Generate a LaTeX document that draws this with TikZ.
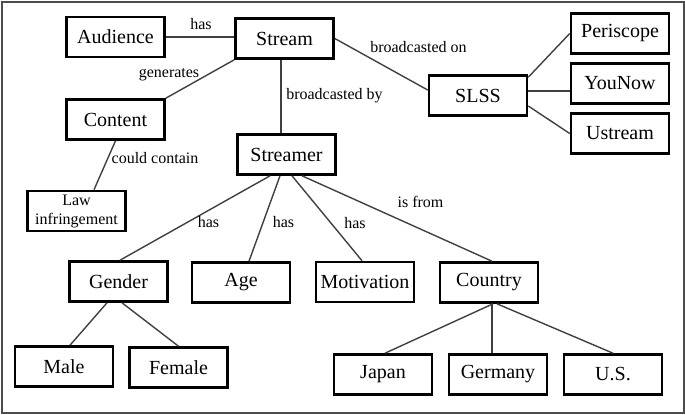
\documentclass[tikz,border=0pt]{standalone}
\usepackage{fontspec}
\setmainfont{Liberation Serif}
\usetikzlibrary{positioning}

\begin{document}
\begin{tikzpicture}[
  x=0.5pt, y=-0.5pt,
  box/.style={draw, line width=1.3pt, minimum width=49pt, minimum height=20pt,
    inner sep=1pt, font=\normalsize},
  link/.style={draw=black!75, line width=0.7pt},
  lbl/.style={font=\footnotesize, inner sep=0pt},
  frame/.style={draw=black!70, line width=1pt}
  ]
\useasboundingbox (0,0) rectangle (685,414);
\draw[frame] (1.5,1.5) rectangle (683.5,412.5);

% concepts
\node[box] (audience)   at (115.5,37)    {Audience};
\node[box] (stream)     at (284.5,38.5)  {Stream};
\node[box] (content)    at (115.5,119.5) {Content};
\node[box] (streamer)   at (286.5,154.5) {Streamer};
\node[box, font=\footnotesize, align=center] (law) at (76.5,211) {Law\\infringement};
\node[box] (slss)       at (478,95.5)    {SLSS};
\node[box] (periscope)  at (620,33.5)    {Periscope};
\node[box] (younow)     at (620,83.5)    {YouNow};
\node[box] (ustream)    at (620,133.5)   {Ustream};
\node[box] (gender)     at (118.5,281.5) {Gender};
\node[box] (age)        at (241,282.5)   {Age};
\node[box] (motivation) at (365,282)     {Motivation};
\node[box] (country)    at (489,282.5)   {Country};
\node[box] (male)       at (64,366.5)    {Male};
\node[box] (female)     at (178.5,367.5) {Female};
\node[box] (japan)      at (383,374.5)   {Japan};
\node[box] (germany)    at (498,374.5)   {Germany};
\node[box] (us)         at (613,374.5)   {U.S.};

% relations
\draw[link] (audience.east) -- (audience.east -| stream.west);
\draw[link] (stream.south west) -- (content.north east);
\draw[link] ([xshift=-1.75pt]stream.south) -- ([xshift=-1.75pt]stream.south |- streamer.north);
\draw[link] (stream.east) -- ([yshift=2.75pt]slss.west);
\draw[link] ([yshift=-1.5pt]slss.north east) -- (periscope.west);
\draw[link] ([yshift=2.25pt]slss.east) -- ([yshift=-3.75pt]younow.west);
\draw[link] ([yshift=-5.25pt]slss.east) -- (ustream.west);
\draw[link] (content.south) -- ([xshift=8.75pt]law.north);
\draw[link] ([xshift=-8.25pt]streamer.south) -- ([xshift=0.75pt]gender.north);
\draw[link] ([xshift=-3.25pt]streamer.south) -- ([xshift=4pt]age.north);
\draw[link] ([xshift=2.75pt]streamer.south) -- ([xshift=-1.5pt]motivation.north);
\draw[link] ([xshift=7.75pt]streamer.south) -- ([xshift=1.5pt]country.north);
\draw[link] ([xshift=-5.75pt]gender.south) -- ([xshift=3pt]male.north);
\draw[link] ([xshift=1.75pt]gender.south) -- (female.north);
\draw[link] ([xshift=2pt]country.south) -- ([xshift=1pt]japan.north);
\draw[link] ([xshift=1.5pt]country.south) -- ([xshift=1.5pt]country.south |- germany.north);
\draw[link] ([xshift=4pt]country.south) -- (us.north);

% relation labels
\node[lbl] (hasaud)    at (201,24)     {has};
\node[lbl] (generates) at (169,75)     {generates};
\node[lbl] (bcastby)   at (334.5,96)   {broadcasted by};
\node[lbl] (bcaston)   at (418.5,47)   {broadcasted on};
\node[lbl] (contain)   at (155,158)    {could contain};
\node[lbl] (hasgen)    at (208.5,222.5) {has};
\node[lbl] (hasage)    at (283.5,222.5) {has};
\node[lbl] (hasmot)    at (355,223.5)  {has};
\node[lbl] (isfrom)    at (420.5,202)  {is from};
\end{tikzpicture}
\end{document}
